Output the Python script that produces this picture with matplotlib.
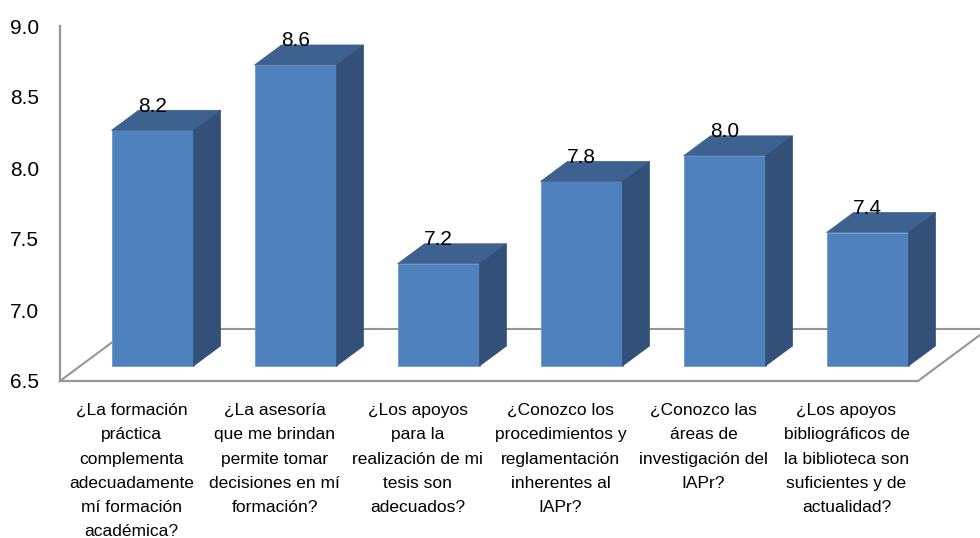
import matplotlib
matplotlib.use('Agg')
import matplotlib.pyplot as plt
from matplotlib.patches import Polygon

plt.rcParams['font.family'] = ['Liberation Sans', 'DejaVu Sans']

categories = ['¿La formación\npráctica\ncomplementa\nadecuadamente\nmí formación\nacadémica?',
              '¿La asesoría\nque me brindan\npermite tomar\ndecisiones en mí\nformación?',
              '¿Los apoyos\npara la\nrealización de mi\ntesis son\nadecuados?',
              '¿Conozco los\nprocedimientos y\nreglamentación\ninherentes al\nIAPr?',
              '¿Conozco las\náreas de\ninvestigación del\nIAPr?',
              '¿Los apoyos\nbibliográficos de\nla biblioteca son\nsuficientes y de\nactualidad?']
values = [8.16, 8.62, 7.22, 7.80, 7.98, 7.44]
value_labels = ['8.2', '8.6', '7.2', '7.8', '8.0', '7.4']
y_ticks = [6.5, 7.0, 7.5, 8.0, 8.5, 9.0]

front = '#4F81BD'
top = '#3E6290'
side = '#325078'
grey = '#969696'

# size of one pixel in data units, for the fake 3d depth
px_x = 6 / 858
px_y = 2.5 / 355
bar_w = 82 * px_x
# depth of the floor and where the bars sit on it
floor_dx, floor_dy = 70 * px_x, 52 * px_y
start_dx, start_dy = 21 * px_x, 15 * px_y
depth_dx, depth_dy = 27 * px_x, 20 * px_y

fig = plt.figure(figsize=(9.8, 5.38), dpi=100)
ax = fig.add_axes([60 / 980, 1 - 381 / 538, 858 / 980, 355 / 538])
ax.set_xlim(-0.5, 5.5)
ax.set_ylim(6.5, 9.0)

# floor
ax.plot([-0.5, -0.5 + floor_dx, 5.5 + floor_dx, 5.5],
        [6.5, 6.5 + floor_dy, 6.5 + floor_dy, 6.5],
        color=grey, lw=1.5, clip_on=False, zorder=1)

for i, v in enumerate(values):
    x0 = i - bar_w / 2 + start_dx
    x1 = x0 + bar_w
    base = 6.5 + start_dy
    yt = v + start_dy
    ax.add_patch(Polygon([(x0, base), (x1, base), (x1, yt), (x0, yt)],
                         facecolor=front, edgecolor='#6F97CB', lw=0.6, clip_on=False, zorder=3))
    ax.add_patch(Polygon([(x0, yt), (x1, yt), (x1 + depth_dx, yt + depth_dy), (x0 + depth_dx, yt + depth_dy)],
                         facecolor=top, edgecolor=top, lw=0.5, clip_on=False, zorder=3))
    ax.add_patch(Polygon([(x1, base), (x1 + depth_dx, base + depth_dy), (x1 + depth_dx, yt + depth_dy), (x1, yt)],
                         facecolor=side, edgecolor=side, lw=0.5, clip_on=False, zorder=3))
    ax.annotate(value_labels[i], (i + start_dx, yt), xytext=(0, 24), textcoords='offset pixels',
                ha='center', va='center', fontsize=15, color='black', zorder=5)

ax.set_xticks(range(len(categories)))
ax.set_xticklabels(categories, fontsize=12.5, linespacing=1.77, color='black')
ax.set_yticks(y_ticks)
ax.set_yticklabels(['%.1f' % t for t in y_ticks], fontsize=15, color='black')
ax.tick_params(axis='x', length=0, pad=16)
ax.tick_params(axis='y', length=0, pad=15)

for s in ['top', 'right']:
    ax.spines[s].set_visible(False)
for s in ['left', 'bottom']:
    ax.spines[s].set_color(grey)
    ax.spines[s].set_linewidth(1.6)

fig.savefig('out.png', dpi=100)
